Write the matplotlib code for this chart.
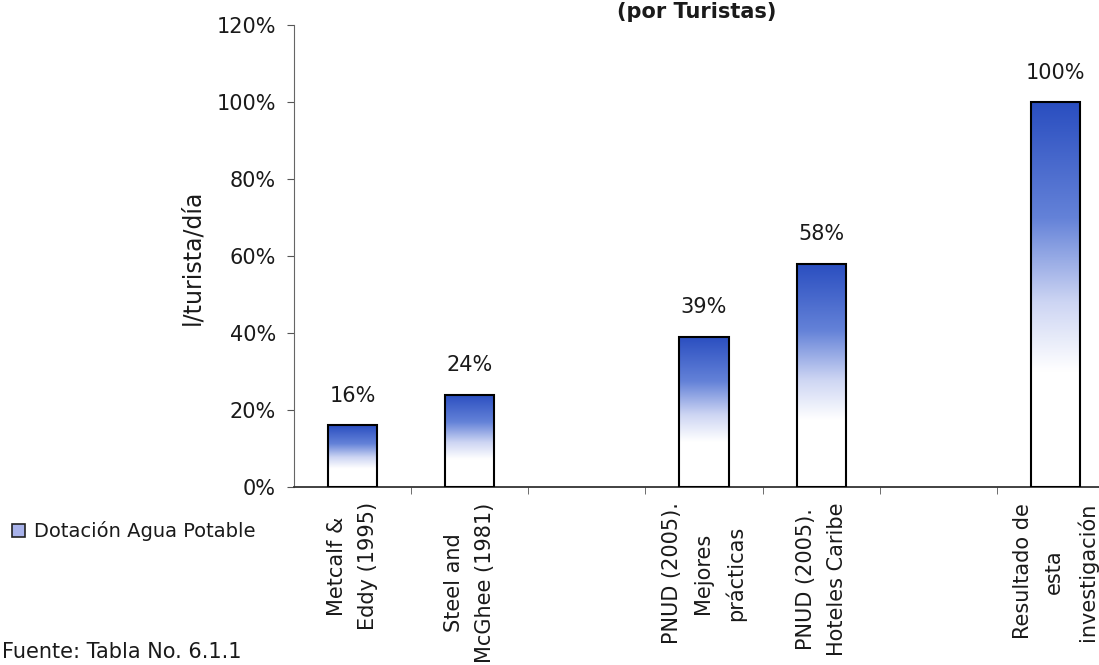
import numpy as np
import matplotlib
matplotlib.use("Agg")
import matplotlib.pyplot as plt
from matplotlib.colors import LinearSegmentedColormap
from matplotlib.patches import Patch
from matplotlib.ticker import PercentFormatter, MultipleLocator

categories = ['Metcalf &\nEddy (1995)', 'Steel and\nMcGhee (1981)', '',
              'PNUD (2005).\nMejores\nprácticas', 'PNUD (2005).\nHoteles Caribe', '',
              'Resultado de\nesta\ninvestigación']
values = [0.16, 0.24, np.nan, 0.39, 0.58, np.nan, 1.00]
series_name = 'Dotación Agua Potable'
title = '(por Turistas)'
ylabel = 'l/turista/día'
source = 'Fuente: Tabla No. 6.1.1'

plt.rcParams['font.family'] = ['DejaVu Sans']
txt = '#1a1a1a'

W, H = 1099, 665
fig = plt.figure(figsize=(W / 100, H / 100), dpi=100)
ax = fig.add_axes([294 / W, 1 - 487 / H, 820 / W, 462 / H])

x = np.arange(len(categories))
bars = ax.bar(x, values, width=0.42, facecolor='none', edgecolor='black',
              linewidth=1.5, zorder=3)

# vertical blue -> white gradient inside each bar
cmap = LinearSegmentedColormap.from_list(
    'grad', [(0, 'white'), (0.3, 'white'), (0.48, '#cdd5f3'),
             (0.7, '#6482d8'), (1, '#2a4ec0')])
grad = np.linspace(0, 1, 256).reshape(-1, 1)
for b, v in zip(bars, values):
    if np.isnan(v):
        continue
    x0 = b.get_x()
    im = ax.imshow(grad, extent=[x0, x0 + b.get_width(), 0, v], origin='lower',
                   aspect='auto', cmap=cmap, zorder=2)
    im.set_clip_path(b)
    ax.annotate(f'{v:.0%}', (b.get_x() + b.get_width() / 2, v), xytext=(0, 14),
                textcoords='offset points', ha='center', va='bottom',
                fontsize=15, color=txt)

ax.set_xlim(-0.5, len(categories) - 0.5)
ax.set_ylim(0, 1.2)
ax.yaxis.set_major_locator(MultipleLocator(0.2))
ax.yaxis.set_major_formatter(PercentFormatter(1.0, decimals=0))

ax.set_xticks(x)
ax.set_xticklabels(categories, rotation=90, multialignment='center',
                   fontsize=15, color=txt, linespacing=1.7)
ax.set_xticks(np.arange(0.5, len(categories) - 1), minor=True)
ax.tick_params(axis='x', which='major', length=0, pad=11)
ax.tick_params(axis='x', which='minor', length=5, color='#555555', direction='out')
ax.tick_params(axis='y', length=5, color='#555555', labelsize=15,
               labelcolor=txt, pad=8)

for s in ['top', 'right']:
    ax.spines[s].set_visible(False)
ax.spines['left'].set_color('#666666')
ax.spines['bottom'].set_color('#333333')
ax.spines['bottom'].set_linewidth(1.3)

fig.text(192 / W, 1 - 257 / H, ylabel, rotation=90, ha='center', va='center',
         fontsize=17, color=txt)
fig.text(697 / W, 1 - 18 / H, title, ha='center', va='baseline',
         fontsize=15, fontweight='bold', color=txt)
fig.text(2 / W, 1 - 652 / H, source, ha='left', va='center', fontsize=15, color=txt)

fig.legend(handles=[Patch(facecolor='#a8b2ea', edgecolor='#222222', linewidth=1.2,
                          label=series_name)],
           loc='center left', bbox_to_anchor=(12 / W, 1 - 531 / H), frameon=False,
           borderpad=0, borderaxespad=0, handlelength=0.65, handleheight=0.65,
           handletextpad=0.5, fontsize=14, labelcolor=txt)

fig.savefig('out.png', dpi=100)
